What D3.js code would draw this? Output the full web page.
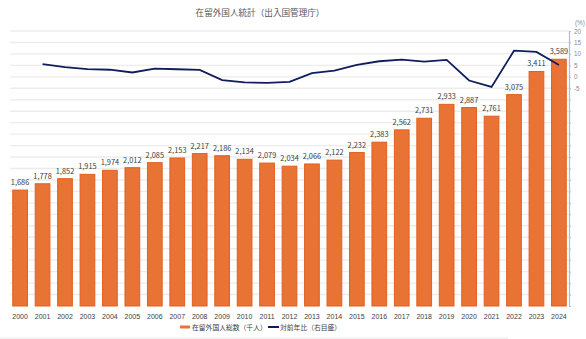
<!DOCTYPE html>
<html><head><meta charset="utf-8">
<script src="https://cdn.jsdelivr.net/npm/d3@7"></script>
<style>body{margin:0;background:#fff;}svg{display:block;font-family:"Noto Sans CJK JP","Noto Sans",sans-serif;}</style>
</head><body><svg id="c" width="586" height="339"></svg>
<script>
const years = ["2000","2001","2002","2003","2004","2005","2006","2007","2008","2009","2010","2011","2012","2013","2014","2015","2016","2017","2018","2019","2020","2021","2022","2023","2024"];
const totals = [1686,1778,1852,1915,1974,2012,2085,2153,2217,2186,2134,2079,2034,2066,2122,2232,2383,2562,2731,2933,2887,2761,3075,3411,3589];
const growth = [null,5.5,4.2,3.4,3.1,1.9,3.6,3.3,3.0,-1.4,-2.4,-2.6,-2.2,1.6,2.7,5.2,6.8,7.5,6.6,7.4,-1.6,-4.4,11.4,10.9,5.2];
const rightTickLabels = [20,15,10,5,0,-5];
const title = "在留外国人統計（出入国管理庁）";
const legendBar = "在留外国人総数（千人）";
const legendLine = "対前年比（右目盛）";

const svg = d3.select("#c");
const pTop = 31, pBottom = 306, pLeft = 10, pRight = 569;
const x = d3.scaleBand().domain(years).range([pLeft, pRight]).paddingInner(0.3).paddingOuter(0.1);
const yL = d3.scaleLinear().domain([0, 4000]).range([pBottom, pTop]);
const yR = d3.scaleLinear().domain([-100, 20]).range([pBottom, pTop]);

// gridlines
const gridVals = d3.range(-100, 21, 5);
svg.append("g").selectAll("line").data(gridVals.filter(v=>v>-100)).join("line")
  .attr("x1", pLeft).attr("x2", pRight)
  .attr("y1", d=>yR(d)).attr("y2", d=>yR(d))
  .attr("stroke", "#ececec").attr("stroke-width", 1.4);

// bars
svg.append("g").selectAll("rect").data(totals).join("rect")
  .attr("x", (d,i)=>x(years[i])+0.5)
  .attr("y", d=>yL(d))
  .attr("width", x.bandwidth()-1)
  .attr("height", d=>yL(0)-yL(d))
  .attr("fill", "#e97235").attr("stroke", "#e2601e").attr("stroke-width", 1);

// line
const line = d3.line().defined(d=>d!==null)
  .x((d,i)=>x(years[i])+x.bandwidth()/2).y(d=>yR(d));
svg.append("path").datum(growth).attr("d", line)
  .attr("fill","none").attr("stroke","#0f1d5c").attr("stroke-width",1.8);

// bar labels
svg.append("g").selectAll("text").data(totals).join("text")
  .attr("x", (d,i)=>x(years[i])+x.bandwidth()/2)
  .attr("y", d=>yL(d)-5)
  .attr("text-anchor","middle")
  .attr("font-size", 7.4).attr("fill", "#404040")
  .text(d=>d3.format(",")(d));

// right axis
const axR = d3.axisRight(yR).tickValues(gridVals).tickSize(2)
  .tickFormat(d=>rightTickLabels.includes(d)?d:"");
const gR = svg.append("g").attr("transform",`translate(${pRight},0)`).call(axR);
gR.select(".domain").attr("stroke","#9fc4d6").attr("stroke-width",1.2);
gR.selectAll(".tick line").attr("stroke","#9fc4d6");
gR.selectAll(".tick text").attr("font-size",6.3).attr("fill","#8a8a8a").attr("x",5)
  .attr("font-family","Liberation Sans, sans-serif");
svg.append("text").attr("x",575).attr("y",25).attr("font-size",6.3).attr("fill","#8a8a8a")
  .attr("font-family","Liberation Sans, sans-serif").text("(%)");

// x axis labels
svg.append("g").selectAll("text").data(years).join("text")
  .attr("x", d=>x(d)+x.bandwidth()/2).attr("y", 318.5)
  .attr("text-anchor","middle").attr("font-size",7).attr("fill","#404040")
  .attr("font-family","Liberation Sans, sans-serif")
  .text(d=>d);

// title
svg.append("text").attr("x",260).attr("y",16).attr("text-anchor","middle")
  .attr("font-size",8.6).attr("fill","#555").text(title);

// legend
svg.append("line").attr("x1",180).attr("x2",190).attr("y1",327).attr("y2",327)
  .attr("stroke","#e97235").attr("stroke-width",3);
svg.append("text").attr("x",192).attr("y",330).attr("font-size",6.8).attr("fill","#404040").text(legendBar);
svg.append("line").attr("x1",268).attr("x2",279).attr("y1",327).attr("y2",327)
  .attr("stroke","#0f1d5c").attr("stroke-width",2);
svg.append("text").attr("x",280).attr("y",330).attr("font-size",6.8).attr("fill","#404040").text(legendLine);

// bottom border
svg.append("line").attr("x1",0).attr("x2",508).attr("y1",338).attr("y2",338)
  .attr("stroke","#e6e6e6").attr("stroke-width",1);
</script></body></html>
